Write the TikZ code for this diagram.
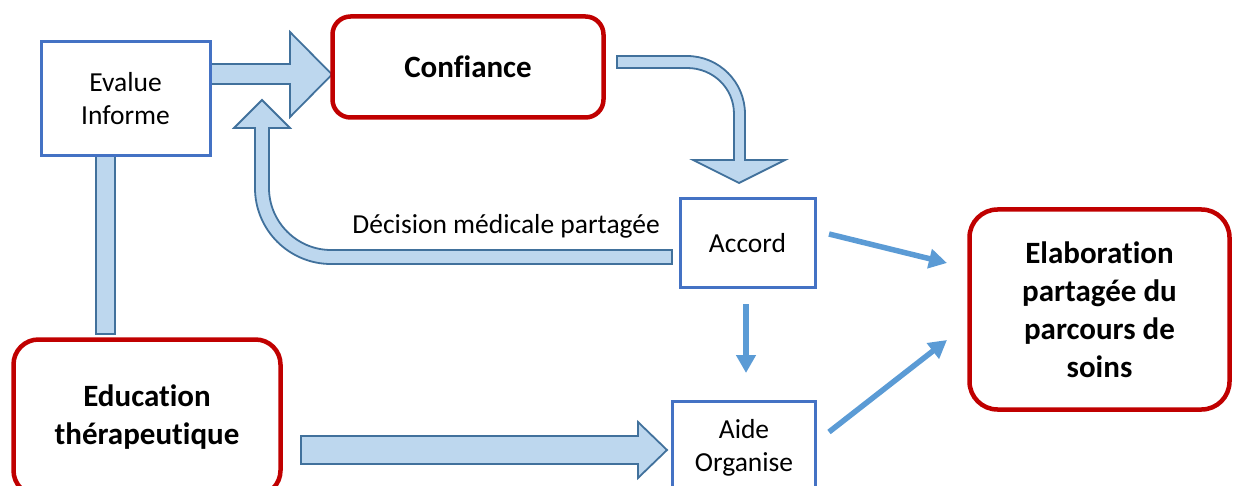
\documentclass[tikz,border=0pt]{standalone}
\usepackage{fontspec}
\setmainfont[Ligatures={NoCommon}]{Carlito}
\usetikzlibrary{arrows.meta,calc}
\definecolor{boxblue}{HTML}{4472C4}
\definecolor{boxred}{HTML}{C00000}
\definecolor{blockfill}{HTML}{BDD7EE}
\definecolor{blockline}{HTML}{41719C}
\definecolor{arrowblue}{HTML}{5B9BD5}
\newcommand{\normtext}{\fontsize{27.5}{33}\selectfont}
\newcommand{\boldtext}{\fontsize{31}{38}\selectfont\bfseries}
\begin{document}
\begin{tikzpicture}[x=1pt,y=-1pt,
  bluebox/.style={draw=boxblue, line width=3pt, fill=white, inner sep=0pt, align=center, font=\normtext},
  redbox/.style={draw=boxred, line width=4.5pt, fill=white, inner sep=0pt, align=center, font=\boldtext},
  blockarrow/.style={draw=blockline, line width=1.8pt, fill=blockfill, line join=miter},
  thinarrow/.style={draw=arrowblue, line width=5.5pt, -{Triangle[length=18pt,width=19pt]}}]
\useasboundingbox (0,0) rectangle (1233,486);
\clip (0,0) rectangle (1233,486);

% block shapes (behind boxes)
% vertical bar between Evalue and Education
\draw[blockarrow] (96,150) rectangle (115,334);
% Evalue -> Confiance
\draw[blockarrow] (205,64) -- (290,64) -- (290,32) -- (332,74.5) -- (290,117) -- (290,84) -- (205,84) -- cycle;
% Confiance -> Accord (curved)
\draw[blockarrow] (617,56) -- (687,56) .. controls (719,56) and (745,82) .. (745,114)
  -- (745,160) -- (785,160) -- (739,183) -- (693,160) -- (734,160) -- (734,114)
  .. controls (734,88) and (713,68) .. (687,68) -- (617,68) -- cycle;
% Accord -> back up (U-turn)
\draw[blockarrow] (672,250) -- (331,250) .. controls (297,250) and (269,222) .. (269,188)
  -- (269,128) -- (290,128) -- (262,100) -- (234,128) -- (255,128) -- (255,188)
  .. controls (255,230) and (289,264) .. (331,264) -- (672,264) -- cycle;
% Education -> Aide
\draw[blockarrow] (301,436) -- (638,436) -- (638,422) -- (667,450) -- (638,478) -- (638,464) -- (301,464) -- cycle;

% boxes
\node[bluebox, minimum width=169pt, minimum height=114pt] (ev) at (125.5,98.6) {Evalue\\Informe};
\node[redbox, rounded corners=18pt, minimum width=271pt, minimum height=101pt] (conf) at (468,67) {Confiance};
\node[bluebox, minimum width=135pt, minimum height=88.5pt] (acc) at (747.5,243) {Accord};
\node[bluebox, minimum width=142.5pt, minimum height=94pt] (aide) at (744,448) {Aide\\Organise};
\node[redbox, rounded corners=25pt, minimum width=267pt, minimum height=156pt] (edu) at (147,417.5) {Education\\thérapeutique};
\node[redbox, rounded corners=28pt, minimum width=260pt, minimum height=200pt] (elab) at (1099.5,309.5) {Elaboration\\partagée du\\parcours de\\soins};

% label
\node[anchor=base east, inner sep=0pt, font=\normtext] (dmp) at (660,234) {Décision médicale partagée};

% thin arrows
\coordinate (a1s) at (829,234);
\coordinate (a1e) at (947,263);
\coordinate (a2s) at (746,304);
\coordinate (a2e) at (746,373);
\coordinate (a3s) at (829,432);
\coordinate (a3e) at (947,340);
\draw[thinarrow] (a1s) -- (a1e);
\draw[thinarrow] (a2s) -- (a2e);
\draw[thinarrow] (a3s) -- (a3e);
\end{tikzpicture}
\end{document}
